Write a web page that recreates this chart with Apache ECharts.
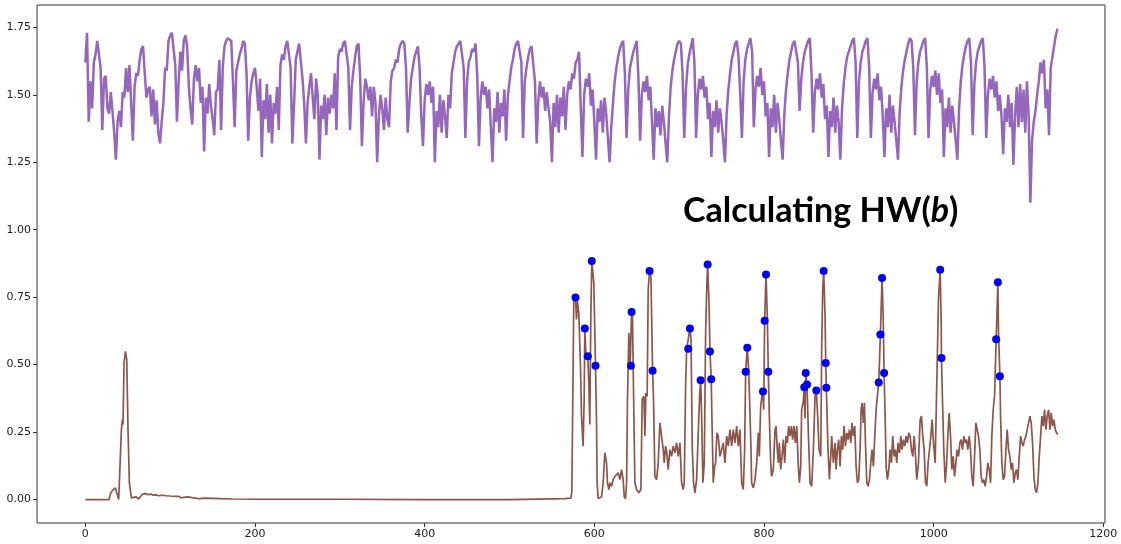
<!DOCTYPE html>
<html>
<head>
<meta charset="utf-8">
<script src="https://cdn.jsdelivr.net/npm/echarts@6/dist/echarts.min.js"></script>
<style>
  html, body { margin: 0; padding: 0; background: #fff; }
  #chart { width: 1121px; height: 544px; }
</style>
</head>
<body>
<div id="chart"></div>
<script>
// tick labels
var xTicks = [0, 200, 400, 600, 800, 1000, 1200];
var yTicks = [0, 0.25, 0.5, 0.75, 1.0, 1.25, 1.5, 1.75];

// purple trace, one value every 2 samples starting at 0
var purpleStep = 2;
var purple = [
  1.62,1.73,1.40,1.55,1.45,1.62,1.65,1.70,1.70,1.60,
  1.37,1.56,1.57,1.45,1.43,1.51,1.44,1.36,1.26,1.40,
  1.44,1.38,1.51,1.49,1.60,1.51,1.61,1.47,1.33,1.53,
  1.58,1.57,1.63,1.67,1.68,1.58,1.49,1.52,1.53,1.42,
  1.52,1.39,1.48,1.36,1.32,1.40,1.47,1.60,1.59,1.70,
  1.72,1.73,1.67,1.61,1.40,1.55,1.66,1.59,1.70,1.72,
  1.68,1.53,1.45,1.39,1.56,1.61,1.55,1.60,1.47,1.53,
  1.29,1.49,1.43,1.54,1.46,1.41,1.35,1.51,1.52,1.63,
  1.37,1.60,1.68,1.70,1.71,1.71,1.70,1.55,1.38,1.59,
  1.62,1.65,1.67,1.70,1.69,1.58,1.33,1.49,1.55,1.58,
  1.60,1.53,1.44,1.56,1.27,1.48,1.41,1.54,1.36,1.50,
  1.32,1.47,1.43,1.53,1.37,1.61,1.65,1.63,1.68,1.70,
  1.70,1.60,1.32,1.46,1.63,1.66,1.69,1.69,1.56,1.47,
  1.32,1.47,1.53,1.58,1.49,1.41,1.56,1.50,1.26,1.46,
  1.41,1.50,1.35,1.49,1.43,1.50,1.45,1.58,1.37,1.64,
  1.67,1.66,1.69,1.70,1.70,1.60,1.37,1.53,1.59,1.64,
  1.68,1.69,1.56,1.31,1.47,1.56,1.53,1.48,1.53,1.42,
  1.53,1.47,1.25,1.42,1.50,1.45,1.37,1.49,1.41,1.38,
  1.55,1.59,1.60,1.63,1.62,1.67,1.69,1.70,1.69,1.60,
  1.36,1.47,1.56,1.60,1.64,1.66,1.68,1.60,1.42,1.31,
  1.48,1.54,1.50,1.55,1.47,1.53,1.25,1.44,1.38,1.50,
  1.36,1.48,1.42,1.34,1.50,1.45,1.58,1.62,1.66,1.68,
  1.69,1.70,1.70,1.60,1.34,1.55,1.62,1.64,1.67,1.66,
  1.69,1.57,1.31,1.49,1.55,1.50,1.53,1.45,1.52,1.38,
  1.25,1.45,1.40,1.51,1.36,1.47,1.42,1.52,1.33,1.49,
  1.55,1.60,1.63,1.67,1.69,1.70,1.70,1.62,1.34,1.55,
  1.60,1.64,1.67,1.68,1.68,1.55,1.32,1.48,1.55,1.49,
  1.53,1.44,1.51,1.45,1.40,1.25,1.47,1.38,1.50,1.36,
  1.49,1.42,1.53,1.37,1.50,1.55,1.52,1.58,1.56,1.62,
  1.63,1.66,1.45,1.27,1.50,1.56,1.53,1.58,1.46,1.52,
  1.40,1.26,1.45,1.40,1.48,1.36,1.49,1.43,1.34,1.25,
  1.38,1.47,1.55,1.60,1.64,1.67,1.69,1.70,1.58,1.34,
  1.52,1.60,1.63,1.66,1.68,1.70,1.56,1.33,1.50,1.55,
  1.51,1.57,1.48,1.53,1.40,1.26,1.45,1.38,1.44,1.35,
  1.46,1.40,1.32,1.25,1.42,1.53,1.59,1.63,1.66,1.69,
  1.70,1.69,1.58,1.34,1.52,1.61,1.65,1.68,1.71,1.62,
  1.34,1.50,1.56,1.52,1.57,1.49,1.53,1.41,1.47,1.27,
  1.44,1.38,1.48,1.36,1.45,1.40,1.33,1.25,1.43,1.52,
  1.58,1.63,1.66,1.69,1.70,1.64,1.50,1.34,1.55,1.63,
  1.67,1.69,1.71,1.66,1.38,1.52,1.57,1.53,1.60,1.50,
  1.55,1.42,1.47,1.27,1.45,1.38,1.50,1.36,1.47,1.41,
  1.33,1.26,1.43,1.52,1.58,1.63,1.66,1.69,1.70,1.70,
  1.62,1.44,1.56,1.62,1.66,1.68,1.70,1.71,1.58,1.36,
  1.51,1.56,1.52,1.58,1.49,1.54,1.41,1.46,1.27,1.44,
  1.38,1.49,1.36,1.46,1.40,1.26,1.45,1.54,1.60,1.64,
  1.66,1.68,1.70,1.71,1.62,1.34,1.55,1.62,1.66,1.68,
  1.70,1.71,1.60,1.34,1.51,1.56,1.52,1.58,1.48,1.53,
  1.42,1.27,1.45,1.38,1.50,1.36,1.46,1.40,1.33,1.26,
  1.44,1.53,1.59,1.63,1.66,1.69,1.71,1.70,1.60,1.35,
  1.55,1.62,1.66,1.68,1.70,1.71,1.60,1.34,1.52,1.57,
  1.53,1.59,1.50,1.58,1.47,1.52,1.27,1.45,1.38,1.49,
  1.36,1.46,1.40,1.33,1.26,1.45,1.55,1.61,1.65,1.68,
  1.70,1.71,1.62,1.35,1.54,1.62,1.66,1.68,1.70,1.71,
  1.60,1.34,1.50,1.56,1.52,1.57,1.49,1.55,1.44,1.50,
  1.42,1.28,1.45,1.40,1.50,1.38,1.47,1.24,1.42,1.53,
  1.38,1.54,1.40,1.52,1.36,1.55,1.42,1.10,1.33,1.40,
  1.44,1.50,1.55,1.62,1.58,1.63,1.45,1.52,1.35,1.60,
  1.64,1.68,1.72,1.745
];

// brown trace [x, y]
var brownPoints = [
  [0,0],[28,0],[30,0.025],[33,0.037],[35.4,0.043],[37,0.025],[39.3,0],[40.9,0.006],
  [42.5,0.259],[43.7,0.296],[44.4,0.278],[45.6,0.506],[47.2,0.549],[48.8,0.519],[50.3,0.259],
  [51.9,0.062],[54.3,0.006],[56.6,0],[59.8,0.01],[62.9,0.002],[66.9,0.019],[69,0.016],
  [71.6,0.022],[74,0.018],[77.5,0.02],[80,0.016],[83.4,0.017],[87,0.014],[90,0.016],
  [95.2,0.014],[100,0.013],[107,0.012],[110,0.012],[112.9,0.006],[116,0.008],[120.7,0.01],
  [126,0.007],[134.5,0.003],[140,0.005],[150,0.004],[160,0.003],[173.8,0.002],[200,0.001],
  [300,0.001],[400,0],[500,0],[565,0.003],[572.5,0.005],[573.5,0.03],[574.2,0.037],
  [575.8,0.741],[577.8,0.749],[579.0,0.667],[580.1,0.735],[581.7,0.691],[583.7,0.494],
  [584.9,0.309],[586.8,0.198],[588.0,0.370],[588.8,0.634],[590.0,0.543],[592.3,0.531],
  [593.5,0.432],[594.7,0.278],[595.9,0.679],[597.0,0.884],[599.4,0.802],[601.4,0.496],
  [602.5,0.31],[603.3,0.062],[604.5,0.004],[608.5,0.01],[610.4,0.062],[612.4,0.173],
  [614.4,0.136],[615.5,0.062],[617.1,0.037],[618.3,0.062],[620.3,0.049],[622.2,0.074],
  [624.2,0.086],[626.2,0.080],[628.1,0.099],[630.1,0.074],[632.1,0.111],[634.0,0.074],
  [635.2,0.012],[636.8,0.003],[638.0,0.062],[639.1,0.370],[640.7,0.617],[642.3,0.50],
  [643.1,0.496],[643.9,0.695],[645.0,0.679],[645.8,0.494],[647.8,0.062],[649.8,0.037],
  [652.5,0.025],[654.9,0.037],[656.4,0.370],[658.4,0.383],[659.6,0.235],[660.8,0.395],
  [662.3,0.383],[663.5,0.778],[665.1,0.847],[666.7,0.827],[668.7,0.477],[669.8,0.370],
  [671.4,0.086],[673.4,0.074],[675.3,0.136],[677.3,0.284],[679.3,0.235],[681.2,0.185],
  [682.4,0.136],[684.0,0.198],[685.5,0.173],[687.1,0.111],[689.1,0.185],[691.1,0.160],
  [693.0,0.198],[695.0,0.173],[697.0,0.210],[698.9,0.160],[700.9,0.210],[702.9,0.062],
  [704.8,0.037],[706.0,0.062],[707.6,0.420],[708.8,0.556],[710.7,0.559],[712.7,0.634],
  [714.0,0.593],[715.5,0.185],[717.0,0.062],[718.6,0.025],[720.6,0.074],[722.5,0.247],
  [724.1,0.383],[725.3,0.442],[726.5,0.309],[728.0,0.062],[729.6,0.136],[731.2,0.617],
  [732.7,0.802],[733.6,0.871],[735.1,0.741],[736.3,0.549],[737.8,0.446],[738.6,0.309],
  [740.2,0.062],[741.8,0.123],[743.0,0.136],[744.5,0.247],[746.1,0.235],[748.1,0.160],
  [750.1,0.185],[752.0,0.210],[754.0,0.136],[756.0,0.235],[757.9,0.198],[759.9,0.259],
  [761.9,0.198],[763.8,0.259],[765.8,0.210],[767.8,0.272],[769.7,0.198],[771.7,0.259],
  [773.7,0.062],[775.6,0.037],[777.2,0.185],[778.4,0.474],[780.3,0.563],[782.0,0.48],
  [784.7,0.185],[785.4,0.062],[787.4,0.043],[789.4,0.074],[791.4,0.136],[793.3,0.247],
  [794.5,0.160],[796.1,0.346],[797.6,0.383],[798.8,0.400],[799.6,0.333],[800.8,0.663],
  [802.4,0.834],[803.9,0.679],[805.1,0.474],[806.3,0.309],[807.9,0.136],[809.0,0.086],
  [811.0,0.111],[813.0,0.259],[814.2,0.272],[815.7,0.185],[816.9,0.136],[818.1,0.210],
  [819.7,0.111],[821.2,0.160],[822.8,0.222],[824.4,0.136],[826.0,0.235],[827.5,0.210],
  [829.1,0.272],[830.7,0.235],[832.3,0.272],[833.8,0.222],[835.4,0.272],[837.0,0.210],
  [838.6,0.272],[840.5,0.123],[841.7,0.062],[843.3,0.123],[844.4,0.333],[846.2,0.36],
  [847.5,0.416],[848.3,0.30],[849.2,0.469],[850.7,0.426],[852.3,0.247],[854.3,0.062],
  [856.2,0.049],[858.2,0.185],[860.2,0.383],[861.7,0.404],[863.3,0.309],[864.9,0.185],
  [866.9,0.160],[868.0,0.556],[869.2,0.778],[870.4,0.847],[872.0,0.679],[872.8,0.506],
  [873.5,0.414],[875.5,0.185],[877.1,0.074],[878.7,0.160],[879.8,0.235],[881.8,0.136],
  [883.8,0.210],[885.0,0.111],[886.5,0.185],[888.1,0.222],[889.7,0.123],[891.3,0.235],
  [892.8,0.185],[894.4,0.272],[896.0,0.198],[897.6,0.247],[899.1,0.222],[900.7,0.259],
  [902.3,0.210],[903.8,0.284],[905.4,0.235],[907.0,0.272],[908.6,0.123],[910.1,0.062],
  [911.7,0.074],[913.3,0.185],[914.5,0.333],[915.6,0.358],[917.2,0.284],[918.4,0.358],
  [919.6,0.210],[921.2,0.062],[922.7,0.049],[924.3,0.074],[925.9,0.136],[927.4,0.185],
  [929.0,0.123],[930.6,0.235],[932.2,0.333],[933.7,0.383],[935.3,0.434],[937.2,0.612],
  [939.2,0.821],[940.5,0.679],[941.6,0.469],[942.8,0.309],[944.0,0.123],[945.5,0.074],
  [947.1,0.111],[948.7,0.185],[950.2,0.136],[951.8,0.235],[953.4,0.160],[955.0,0.185],
  [956.5,0.136],[958.1,0.210],[959.7,0.173],[961.3,0.235],[962.8,0.185],[964.4,0.222],
  [966.0,0.198],[967.6,0.235],[969.1,0.210],[970.7,0.247],[972.3,0.235],[973.8,0.185],
  [975.4,0.160],[977.0,0.235],[978.2,0.185],[980.1,0.074],[982.1,0.136],[984.1,0.296],
  [985.6,0.309],[987.2,0.235],[988.8,0.185],[990.4,0.062],[991.9,0.049],[993.5,0.136],
  [995.1,0.185],[996.7,0.235],[998.2,0.296],[999.8,0.210],[1001.8,0.136],[1003.7,0.432],
  [1005.7,0.741],[1007.7,0.852],[1008.8,0.679],[1009.2,0.525],[1010.4,0.370],[1012.0,0.185],
  [1013.6,0.062],[1015.1,0.123],[1016.7,0.235],[1018.3,0.321],[1019.9,0.235],[1021.4,0.111],
  [1023.0,0.160],[1024.6,0.086],[1026.2,0.136],[1027.7,0.185],[1029.3,0.160],[1030.9,0.210],
  [1032.4,0.222],[1034.0,0.185],[1035.6,0.235],[1037.2,0.210],[1038.7,0.222],[1040.3,0.185],
  [1041.9,0.235],[1043.5,0.185],[1045.0,0.086],[1046.6,0.049],[1048.2,0.160],[1049.8,0.284],
  [1051.3,0.284],[1052.9,0.235],[1054.5,0.185],[1056.0,0.086],[1057.6,0.062],[1059.2,0.074],
  [1060.8,0.049],[1062.3,0.086],[1063.9,0.136],[1065.5,0.111],[1067.1,0.062],[1068.6,0.235],
  [1070.2,0.333],[1071.8,0.383],[1073.7,0.594],[1075.7,0.805],[1076.5,0.617],[1078.1,0.457],
  [1078.9,0.309],[1080.4,0.136],[1082.0,0.074],[1083.6,0.086],[1085.2,0.185],[1086.7,0.259],
  [1088.3,0.185],[1089.9,0.160],[1091.4,0.111],[1093.0,0.136],[1094.6,0.062],[1096.2,0.099],
  [1097.7,0.111],[1099.3,0.074],[1100.9,0.160],[1102.5,0.235],[1104.0,0.210],[1105.6,0.198],
  [1107.2,0.222],[1108.8,0.235],[1110.3,0.259],[1111.9,0.284],[1113.5,0.309],[1115.0,0.284],
  [1116.6,0.210],[1118.2,0.086],[1119.8,0.037],[1121.3,0.025],[1122.9,0.062],[1124.5,0.160],
  [1126.1,0.235],[1127.6,0.309],[1129.2,0.272],[1130.8,0.333],[1132.3,0.259],[1133.9,0.309],
  [1135.5,0.333],[1137.1,0.259],[1138.6,0.321],[1140.2,0.272],[1141.8,0.296],[1143.4,0.259],
  [1144.9,0.247],[1146.5,0.241]
];

// blue markers [x, y]
var markPoints = [
  [577.8,0.749],[597.0,0.884],[588.8,0.634],[592.3,0.531],[601.4,0.496],
  [643.9,0.695],[643.1,0.496],[665.1,0.847],[668.7,0.477],
  [712.7,0.634],[710.7,0.559],[733.6,0.871],[736.3,0.549],[725.3,0.442],[737.8,0.446],
  [780.3,0.563],[778.4,0.474],[802.4,0.834],[800.8,0.663],[805.1,0.474],[798.8,0.400],
  [870.4,0.847],[872.8,0.506],[873.5,0.414],[849.2,0.469],[850.7,0.426],[847.5,0.416],[861.7,0.404],
  [939.2,0.821],[937.2,0.612],[941.6,0.469],[935.3,0.434],
  [1007.7,0.852],[1009.2,0.525],
  [1075.7,0.805],[1073.7,0.594],[1078.1,0.457]
];

var purpleData = purple.map(function (v, i) { return [i * purpleStep, v]; });

var chart = echarts.init(document.getElementById('chart'), null, { renderer: 'canvas' });

var axisFont = { fontSize: 11, color: '#222', fontFamily: 'DejaVu Sans' };

chart.setOption({
  animation: false,
  backgroundColor: '#fff',
  grid: {
    left: 37, right: 16, top: 5, bottom: 21,
    show: true, borderColor: '#333', borderWidth: 1
  },
  xAxis: {
    type: 'value',
    min: -57, max: 1202,
    axisLine: { show: false, onZero: false },
    splitLine: { show: false },
    axisTick: { show: true, length: 4, customValues: xTicks, lineStyle: { color: '#333' } },
    axisLabel: Object.assign({
      customValues: xTicks, margin: 6,
      formatter: function (v) { return String(v); }
    }, axisFont)
  },
  yAxis: {
    type: 'value',
    min: -0.087, max: 1.833,
    axisLine: { show: false, onZero: false },
    splitLine: { show: false },
    axisTick: { show: true, length: 4, customValues: yTicks, lineStyle: { color: '#333' } },
    axisLabel: Object.assign({
      customValues: yTicks, margin: 6,
      formatter: function (v) { return v.toFixed(2); }
    }, axisFont)
  },
  graphic: [{
    type: 'text',
    left: 683, top: 194,
    z: 100,
    style: {
      text: '{a|Calculating HW(}{i|b}{a|)}',
      rich: {
        a: { fontFamily: 'Lato', fontWeight: 'bold', fontSize: 34, fill: '#000' },
        i: { fontFamily: 'Lato', fontWeight: 'bold', fontStyle: 'italic', fontSize: 34, fill: '#000' }
      }
    }
  }],
  series: [
    {
      type: 'line',
      data: purpleData,
      showSymbol: false,
      lineStyle: { color: '#9467bd', width: 2.5 },
      itemStyle: { color: '#9467bd' },
      z: 2
    },
    {
      type: 'line',
      data: brownPoints,
      showSymbol: false,
      lineStyle: { color: '#8c564b', width: 1.7 },
      itemStyle: { color: '#8c564b' },
      z: 3
    },
    {
      type: 'scatter',
      data: markPoints,
      symbolSize: 8,
      itemStyle: { color: '#0000ff', opacity: 1 },
      z: 4
    }
  ]
});
</script>
</body>
</html>
